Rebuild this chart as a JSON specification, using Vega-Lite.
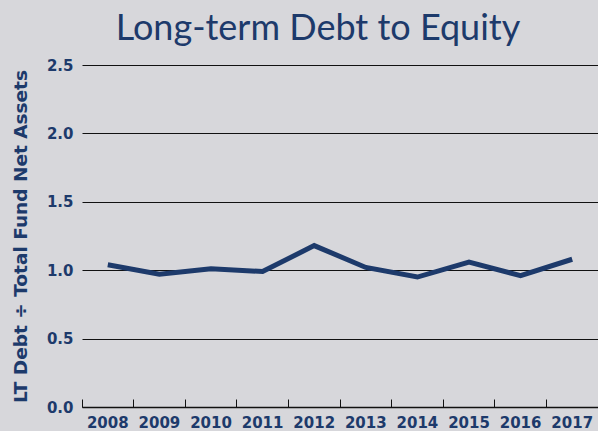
{
  "$schema": "https://vega.github.io/schema/vega-lite/v6.json",
  "width": 516,
  "height": 342,
  "autosize": {"type": "none"},
  "padding": {"left": 82, "top": 65, "right": 0, "bottom": 24},
  "background": "#d7d7db",
  "title": {
    "text": "Long-term Debt to Equity",
    "font": "Lato",
    "fontSize": 36,
    "fontWeight": 400,
    "color": "#1d3a6b",
    "anchor": "middle",
    "frame": "group",
    "dx": -22,
    "offset": 10
  },
  "config": {
    "view": {"stroke": null},
    "axis": {"labelFont": "DejaVu Sans", "titleFont": "DejaVu Sans"}
  },
  "data": {
    "values": [
      {"year": "2008", "ratio": 1.04},
      {"year": "2009", "ratio": 0.97},
      {"year": "2010", "ratio": 1.01},
      {"year": "2011", "ratio": 0.99},
      {"year": "2012", "ratio": 1.18},
      {"year": "2013", "ratio": 1.02},
      {"year": "2014", "ratio": 0.95},
      {"year": "2015", "ratio": 1.06},
      {"year": "2016", "ratio": 0.96},
      {"year": "2017", "ratio": 1.08}
    ]
  },
  "mark": {"type": "line", "color": "#1d3a6b", "strokeWidth": 5, "strokeJoin": "miter"},
  "encoding": {
    "x": {
      "field": "year",
      "type": "ordinal",
      "scale": {"type": "band", "paddingInner": 0, "paddingOuter": 0},
      "axis": {
        "title": null,
        "labelAngle": 0,
        "bandPosition": 0,
        "labelFontSize": 15,
        "labelFontWeight": "bold",
        "labelColor": "#1d3a6b",
        "domainColor": "#111111",
        "domainWidth": 1.5,
        "tickColor": "#111111",
        "tickWidth": 1,
        "tickSize": -8,
        "labelPadding": 16,
        "grid": false
      }
    },
    "y": {
      "field": "ratio",
      "type": "quantitative",
      "scale": {"domain": [0, 2.5]},
      "axis": {
        "title": "LT Debt ÷ Total Fund Net Assets",
        "titleFontSize": 18.5,
        "titleFontWeight": "bold",
        "titleColor": "#1d3a6b",
        "titlePadding": 16,
        "values": [0, 0.5, 1, 1.5, 2, 2.5],
        "format": ".1f",
        "labelFontSize": 15,
        "labelFontWeight": "bold",
        "labelColor": "#1d3a6b",
        "labelPadding": 9,
        "domain": false,
        "ticks": false,
        "grid": true,
        "gridColor": "#111111",
        "gridOpacity": 1,
        "gridWidth": 1.2
      }
    }
  }
}
